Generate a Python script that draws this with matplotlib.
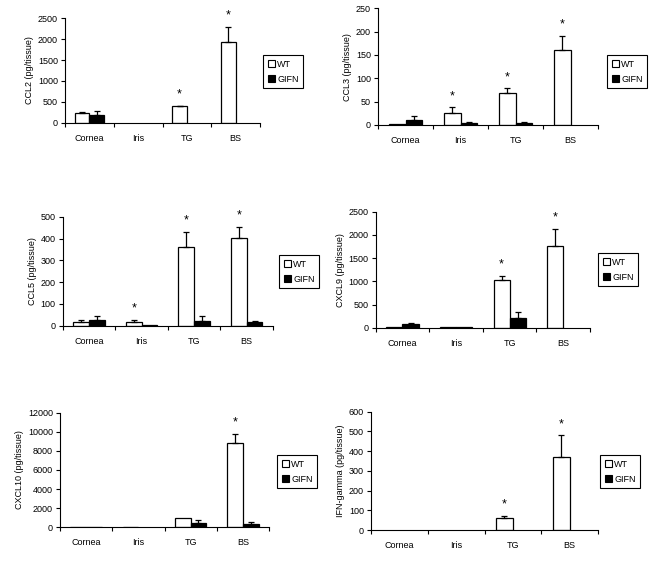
import matplotlib
matplotlib.use('Agg')
import matplotlib.pyplot as plt
from matplotlib.patches import Patch
import numpy as np

plt.rcParams['font.family'] = ['Liberation Sans', 'DejaVu Sans']
plt.rcParams['font.size'] = 6

CATEGORIES = ['Cornea', 'Iris', 'TG', 'BS']

CCL2_WT = [230, 0, 390, 1930]
CCL2_WT_ERR = [30, 0, 20, 370]
CCL2_GIFN = [180, 0, 0, 0]
CCL2_GIFN_ERR = [100, 0, 0, 0]
CCL2_STARS = [False, False, True, True]

CCL3_WT = [2, 26, 69, 161]
CCL3_WT_ERR = [0, 12, 10, 30]
CCL3_GIFN = [11, 4, 4, 0]
CCL3_GIFN_ERR = [8, 2, 2, 0]
CCL3_STARS = [False, True, True, True]

CCL5_WT = [18, 18, 363, 403]
CCL5_WT_ERR = [8, 8, 68, 50]
CCL5_GIFN = [27, 3, 22, 15]
CCL5_GIFN_ERR = [18, 0, 22, 5]
CCL5_STARS = [False, True, True, True]

CXCL9_WT = [20, 20, 1020, 1760]
CXCL9_WT_ERR = [0, 0, 100, 370]
CXCL9_GIFN = [70, 15, 200, 0]
CXCL9_GIFN_ERR = [35, 0, 130, 0]
CXCL9_STARS = [False, False, True, True]

CXCL10_WT = [80, 50, 950, 8800]
CXCL10_WT_ERR = [0, 0, 0, 1000]
CXCL10_GIFN = [60, 0, 500, 300]
CXCL10_GIFN_ERR = [0, 0, 300, 300]
CXCL10_STARS = [False, False, False, True]

IFNG_WT = [0, 0, 62, 370]
IFNG_WT_ERR = [0, 0, 10, 110]
IFNG_GIFN = [0, 0, 0, 0]
IFNG_GIFN_ERR = [0, 0, 0, 0]
IFNG_STARS = [False, False, True, True]

W, H = 651, 561


def px_rect(left, right, bottom, top):
    return [left / W, 1 - bottom / H, (right - left) / W, (bottom - top) / H]


def draw_series(ax, xpos, vals, errs, color):
    xpos, vals, errs = np.asarray(xpos), np.asarray(vals, float), np.asarray(errs, float)
    keep = vals > 0
    ax.bar(xpos[keep], vals[keep], 0.3, color=color, edgecolor='black', linewidth=0.9)
    e = errs > 0
    if e.any():
        ax.errorbar(xpos[e], vals[e], yerr=[np.zeros(e.sum()), errs[e]], fmt='none',
                    ecolor='black', elinewidth=0.9, capsize=2.2, capthick=0.9)


def plot_panel(fig, rect, legend_xy, ylabel, ymax, ystep, wt, wt_err, gifn, gifn_err, stars):
    ax = fig.add_axes(rect)
    x = np.arange(len(CATEGORIES))
    bw = 0.3
    draw_series(ax, x - bw / 2, wt, wt_err, 'white')
    draw_series(ax, x + bw / 2, gifn, gifn_err, 'black')

    for i, s in enumerate(stars):
        if s:
            top = max(wt[i] + wt_err[i], gifn[i] + gifn_err[i])
            ax.annotate('*', xy=(x[i] - bw / 2, top), xytext=(0, 8),
                        textcoords='offset points', ha='center', va='center', fontsize=9)

    ax.set_xlim(-0.5, len(CATEGORIES) - 0.5)
    ax.set_ylim(0, ymax)
    ax.set_yticks(np.arange(0, ymax + 1, ystep))
    ax.set_xticks(np.arange(-0.5, len(CATEGORIES)), [''] * (len(CATEGORIES) + 1))
    ax.set_xticks(x, CATEGORIES, minor=True)
    ax.tick_params(axis='x', which='major', direction='out', length=3, width=0.8)
    ax.tick_params(axis='x', which='minor', length=0, pad=8, labelsize=6.5)
    ax.tick_params(axis='y', direction='out', length=3, width=0.8, labelsize=6.5, pad=2)
    for side in ['top', 'right']:
        ax.spines[side].set_visible(False)
    for side in ['left', 'bottom']:
        ax.spines[side].set_linewidth(0.8)
    ax.set_ylabel(ylabel, fontsize=6.5, labelpad=3)

    handles = [Patch(facecolor='white', edgecolor='black', linewidth=0.8),
               Patch(facecolor='black', edgecolor='black', linewidth=0.8)]
    leg = ax.legend(handles, ['WT', 'GIFN'], loc='upper left',
                    bbox_to_anchor=(legend_xy[0] / W, 1 - legend_xy[1] / H),
                    bbox_transform=fig.transFigure, fontsize=6.5, fancybox=False,
                    edgecolor='black', framealpha=1, borderpad=0.5, labelspacing=0.7,
                    handlelength=0.8, handleheight=0.8, handletextpad=0.3, borderaxespad=0)
    leg.get_frame().set_linewidth(0.8)
    return ax


def main():
    fig = plt.figure(figsize=(W / 100, H / 100), dpi=100)
    plot_panel(fig, px_rect(65, 260, 122.7, 18.3), (263, 55), 'CCL2 (pg/tissue)',
               2500, 500, CCL2_WT, CCL2_WT_ERR, CCL2_GIFN, CCL2_GIFN_ERR, CCL2_STARS)
    plot_panel(fig, px_rect(378, 598, 125, 8.3), (607, 55), 'CCL3 (pg/tissue)',
               250, 50, CCL3_WT, CCL3_WT_ERR, CCL3_GIFN, CCL3_GIFN_ERR, CCL3_STARS)
    plot_panel(fig, px_rect(62.7, 273, 325.7, 216.7), (279, 255), 'CCL5 (pg/tissue)',
               500, 100, CCL5_WT, CCL5_WT_ERR, CCL5_GIFN, CCL5_GIFN_ERR, CCL5_STARS)
    plot_panel(fig, px_rect(375.7, 590, 327.7, 211.7), (598, 253), 'CXCL9 (pg/tissue)',
               2500, 500, CXCL9_WT, CXCL9_WT_ERR, CXCL9_GIFN, CXCL9_GIFN_ERR, CXCL9_STARS)
    plot_panel(fig, px_rect(60, 269, 527.3, 412.7), (277, 455), 'CXCL10 (pg/tissue)',
               12000, 2000, CXCL10_WT, CXCL10_WT_ERR, CXCL10_GIFN, CXCL10_GIFN_ERR, CXCL10_STARS)
    plot_panel(fig, px_rect(371, 598, 530, 411.7), (600, 455), 'IFN-gamma (pg/tissue)',
               600, 100, IFNG_WT, IFNG_WT_ERR, IFNG_GIFN, IFNG_GIFN_ERR, IFNG_STARS)
    fig.savefig('out.png', dpi=100)


if __name__ == '__main__':
    main()
